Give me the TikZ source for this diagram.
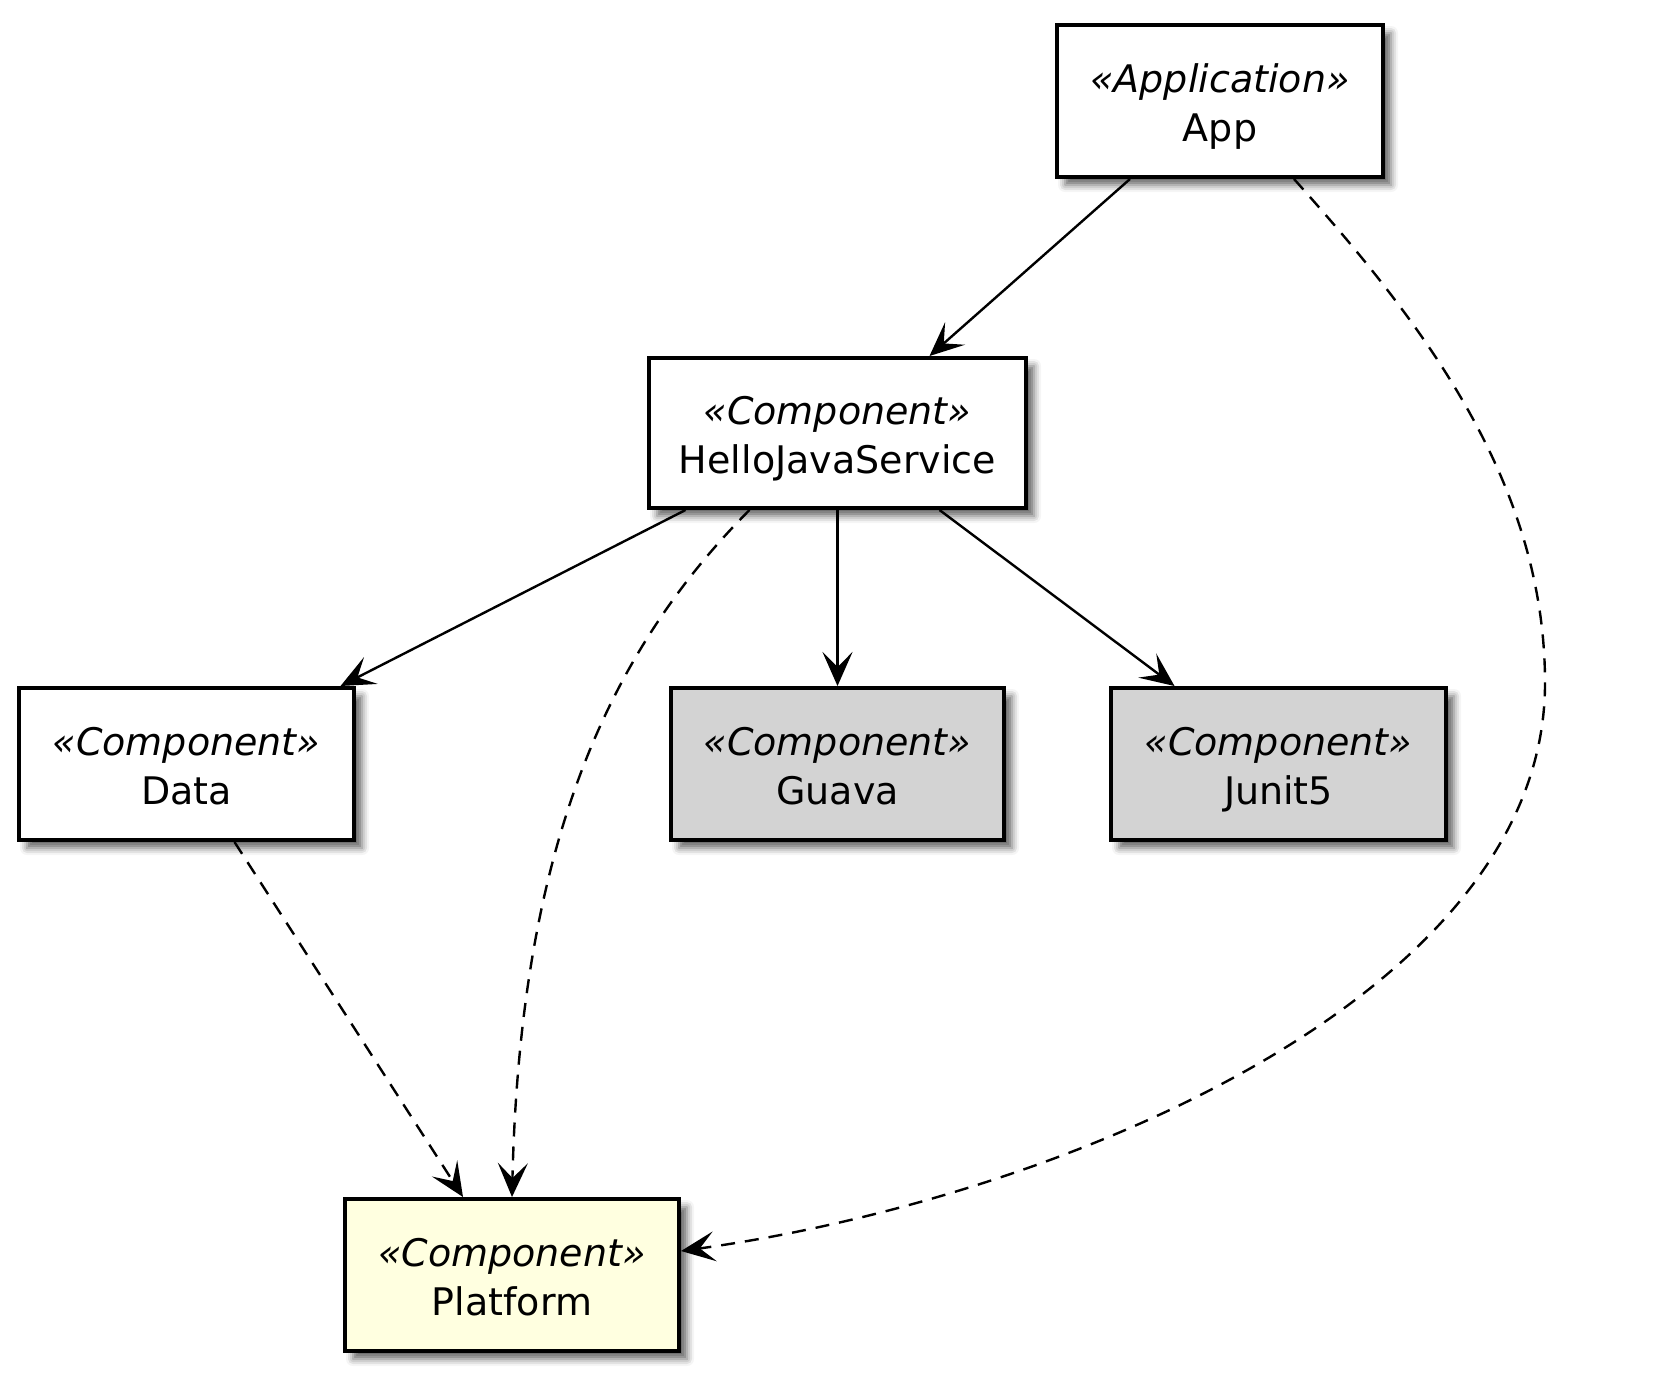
\documentclass[tikz,border=0pt]{standalone}
\usepackage{fontspec}
\setmainfont{DejaVu Sans}
\usetikzlibrary{arrows.meta, shadows.blur}
\definecolor{libgray}{RGB}{211,211,211}
\definecolor{baseyellow}{RGB}{255,255,224}
% stereotype line + name line, with fixed line height/depth
\newcommand{\stereo}[2]{\rule{0pt}{20.7pt}{\itshape «#1»}\\#2\rule[-5pt]{0pt}{1pt}}

\begin{document}
\begin{tikzpicture}[x=0.5pt, y=-0.5pt,
  comp/.style={draw=black, line width=2pt, fill=white, align=center,
    font=\fontsize{19}{24.5}\selectfont, minimum height=76pt, inner sep=0pt,
    blur shadow={shadow xshift=4pt, shadow yshift=-4pt, shadow blur radius=3.5pt, shadow opacity=60}},
  uses/.style={-{Stealth[length=17pt, width=15pt, inset=7.5pt]}, line width=1.2pt},
  weak/.style={uses, dash pattern=on 7pt off 5pt}]
  \useasboundingbox (0,0) rectangle (1674,1382);

  % components
  \node[comp, minimum width=163pt] (app) at (1220,101) {\stereo{Application}{App}};
  \node[comp, minimum width=188.5pt, minimum height=75pt] (hjs) at (837.5,433) {\stereo{Component}{HelloJavaService}};
  \node[comp, minimum width=167.5pt] (data) at (186.5,764) {\stereo{Component}{Data}};
  \node[comp, minimum width=166.5pt, fill=libgray] (guava) at (837.5,764) {\stereo{Component}{Guava}};
  \node[comp, minimum width=167.5pt, fill=libgray] (junit) at (1278.5,764) {\stereo{Component}{Junit5}};
  \node[comp, minimum width=167pt, fill=baseyellow] (platform) at (512,1275) {\stereo{Component}{Platform}};

  % solid dependencies
  \draw[uses] ([xshift=-45pt]app.south) -- ([xshift=46pt]hjs.north);
  \draw[uses] ([xshift=-76pt]hjs.south) -- ([xshift=77pt]data.north);
  \draw[uses] (hjs.south) -- (guava.north);
  \draw[uses] ([xshift=51pt]hjs.south) -- ([xshift=-52pt]junit.north);

  % dashed dependencies on platform
  \draw[weak] ([xshift=24pt]data.south) -- ([xshift=-24.5pt]platform.north);
  \draw[weak] ([xshift=-44pt]hjs.south) .. controls (600,660) and (520,860) .. (platform.north);
  \draw[weak] ([xshift=37pt]app.south) .. controls (1420,320) and (1545,480) .. (1545,683)
    .. controls (1545,1000) and (1050,1200) .. ([yshift=12pt]platform.east);
\end{tikzpicture}
\end{document}
